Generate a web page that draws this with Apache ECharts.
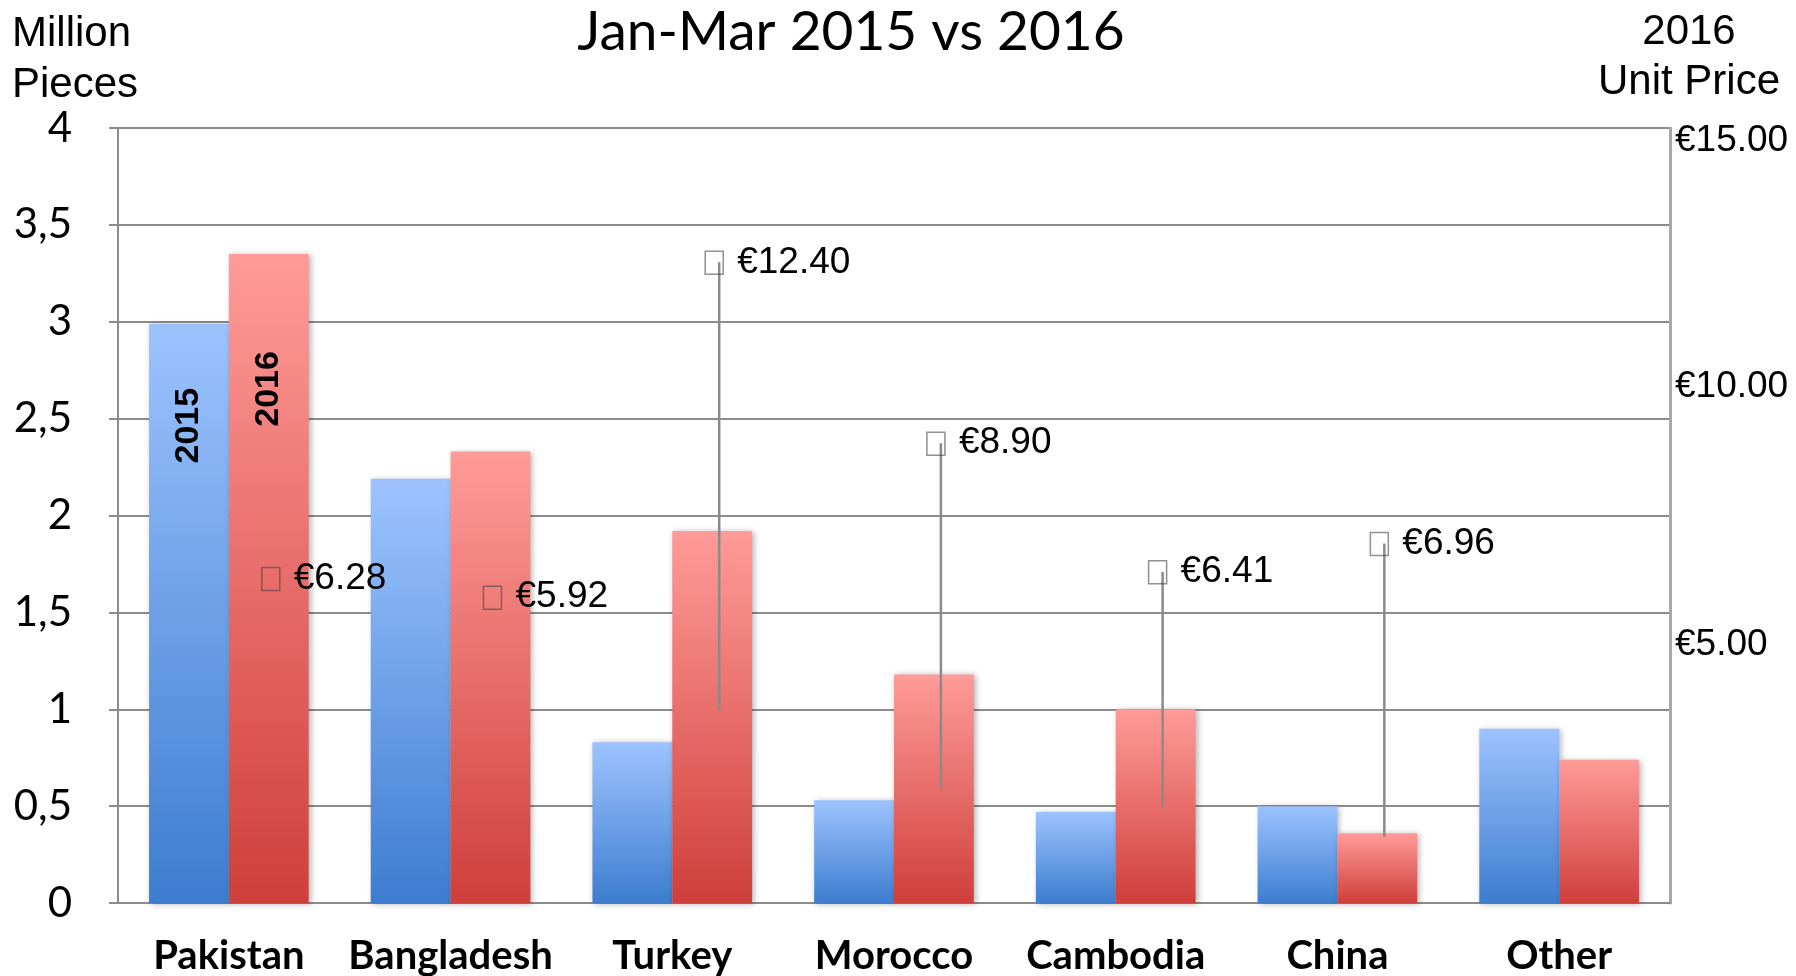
<!DOCTYPE html>
<html>
<head>
<meta charset="utf-8">
<title>Jan-Mar 2015 vs 2016</title>
<script src="https://cdn.jsdelivr.net/npm/echarts@6/dist/echarts.min.js"></script>
<style>
html, body { margin: 0; padding: 0; background: #fff; }
#container { width: 1796px; height: 976px; }
</style>
</head>
<body>
<div id="container"></div>
<script>
// values (million pieces)
var countries = ["Pakistan", "Bangladesh", "Turkey", "Morocco", "Cambodia", "China", "Other"];
var pieces2015 = [2.99, 2.19, 0.83, 0.53, 0.47, 0.50, 0.90];
var pieces2016 = [3.35, 2.33, 1.92, 1.18, 1.00, 0.36, 0.74];
// 2016 unit price in EUR, null = no marker
var price2016 = [6.28, 5.92, 12.40, 8.90, 6.41, 6.96, null];
// lower end of the drop line under each price marker (EUR)
var priceLow = [null, null, 3.73, 2.22, 1.84, 1.28, null];

var catFont = "Lato";
var arial = '"Liberation Sans", Arial, sans-serif';

function grad(top, bottom) {
  return new echarts.graphic.LinearGradient(0, 0, 0, 1, [
    { offset: 0, color: top },
    { offset: 1, color: bottom }
  ]);
}

// price markers: drawn over the 2016 bar of each category
var priceData = [];
price2016.forEach(function (p, i) {
  if (p == null) return;
  priceData.push([i, p, priceLow[i] == null ? "-" : priceLow[i]]);
});

function renderPrice(params, api) {
  var i = api.value(0);
  var band = api.size([1, 0])[0];
  var pt = api.coord([i, api.value(1)]);
  var x = pt[0] + band * 0.18 + 7;
  var y = pt[1];
  var children = [];
  var low = api.value(2);
  if (!isNaN(low)) {
    var lp = api.coord([i, low]);
    children.push({
      type: "line",
      shape: { x1: x, y1: y, x2: x, y2: lp[1] },
      style: { stroke: "#8a8a8a", lineWidth: 2.5 }
    });
  }
  children.push({
    type: "rect",
    shape: { x: x - 14, y: y - 11, width: 18, height: 23 },
    style: { fill: "none", stroke: "rgba(70,70,70,0.6)", lineWidth: 1.5 }
  });
  children.push({
    type: "text",
    style: {
      text: "€" + api.value(1).toFixed(2),
      x: x + 18,
      y: y,
      verticalAlign: "middle",
      font: "37px " + arial,
      fill: "#000"
    }
  });
  return { type: "group", children: children };
}

var barShadow = {
  shadowColor: "rgba(0,0,0,0.3)",
  shadowBlur: 6,
  shadowOffsetX: 2,
  shadowOffsetY: 1
};

function yearLabel(text, offset) {
  return {
    show: true,
    formatter: text,
    position: ["50%", offset],
    rotate: 90,
    align: "center",
    verticalAlign: "middle",
    fontFamily: arial,
    fontWeight: "bold",
    fontSize: 34,
    color: "#000"
  };
}

var data2015 = pieces2015.map(function (v, i) {
  return i === 0 ? { value: v, label: yearLabel("2015", 102) } : v;
});
var data2016 = pieces2016.map(function (v, i) {
  return i === 0 ? { value: v, label: yearLabel("2016", 135) } : v;
});

var option = {
  backgroundColor: "#fff",
  animation: false,
  title: [
    {
      text: "Jan-Mar 2015 vs 2016",
      left: 846,
      top: 0,
      textAlign: "center",
      textStyle: { fontFamily: catFont, fontWeight: "normal", fontSize: 55, color: "#000" }
    },
    {
      text: "Million\nPieces",
      left: 7,
      top: 4,
      textStyle: { fontFamily: arial, fontWeight: "normal", fontSize: 42, lineHeight: 51, color: "#000" }
    },
    {
      text: "2016\nUnit Price",
      left: 1684,
      top: 2,
      textAlign: "center",
      textStyle: { fontFamily: arial, fontWeight: "normal", fontSize: 42, lineHeight: 50, color: "#000", align: "center" }
    }
  ],
  grid: {
    left: 118,
    right: 126,
    top: 128,
    bottom: 73,
    containLabel: false,
    outerBoundsMode: "none"
  },
  xAxis: {
    type: "category",
    data: countries,
    axisLine: { lineStyle: { color: "#8c8c8c", width: 2 } },
    axisTick: { length: 12, lineStyle: { color: "#8c8c8c", width: 2 } },
    axisLabel: {
      interval: 0,
      margin: 33,
      fontFamily: catFont,
      fontWeight: "bold",
      fontSize: 40,
      color: "#000"
    }
  },
  yAxis: [
    {
      type: "value",
      min: 0,
      max: 4,
      interval: 0.5,
      axisLine: { show: true, lineStyle: { color: "#8c8c8c", width: 2 } },
      axisTick: { show: true, length: 9, lineStyle: { color: "#8c8c8c", width: 2 } },
      splitLine: { lineStyle: { color: "#8c8c8c", width: 2 } },
      axisLabel: {
        margin: 46,
        fontFamily: catFont,
        fontSize: 42,
        color: "#000",
        formatter: function (v) { return String(v).replace(".", ","); }
      }
    },
    {
      type: "value",
      min: 0,
      max: 15,
      interval: 5,
      position: "right",
      axisLine: { show: true, lineStyle: { color: "#a8a8a8", width: 3 } },
      axisTick: { show: false },
      splitLine: { show: false },
      axisLabel: {
        margin: 5,
        fontFamily: arial,
        fontSize: 37,
        color: "#000",
        formatter: function (v) {
          if (v === 0) return "";
          return v === 15 ? "{top|€" + v.toFixed(2) + "}" : "€" + v.toFixed(2);
        },
        rich: { top: { fontFamily: arial, fontSize: 37, color: "#000", padding: [26, 0, 0, 0] } }
      }
    }
  ],
  series: [
    {
      name: "2015",
      type: "bar",
      barWidth: "36%",
      barGap: "0%",
      data: data2015,
      itemStyle: Object.assign({ color: grad("#9dc3ff", "#3d7dcf") }, barShadow)
    },
    {
      name: "2016",
      type: "bar",
      barWidth: "36%",
      barGap: "0%",
      data: data2016,
      itemStyle: Object.assign({ color: grad("#ff9b98", "#cf3f3b") }, barShadow)
    },
    {
      name: "2016 Unit Price",
      type: "custom",
      yAxisIndex: 1,
      z: 5,
      renderItem: renderPrice,
      data: priceData
    }
  ]
};

var chart = echarts.init(document.getElementById("container"));
chart.setOption(option);
</script>
</body>
</html>
